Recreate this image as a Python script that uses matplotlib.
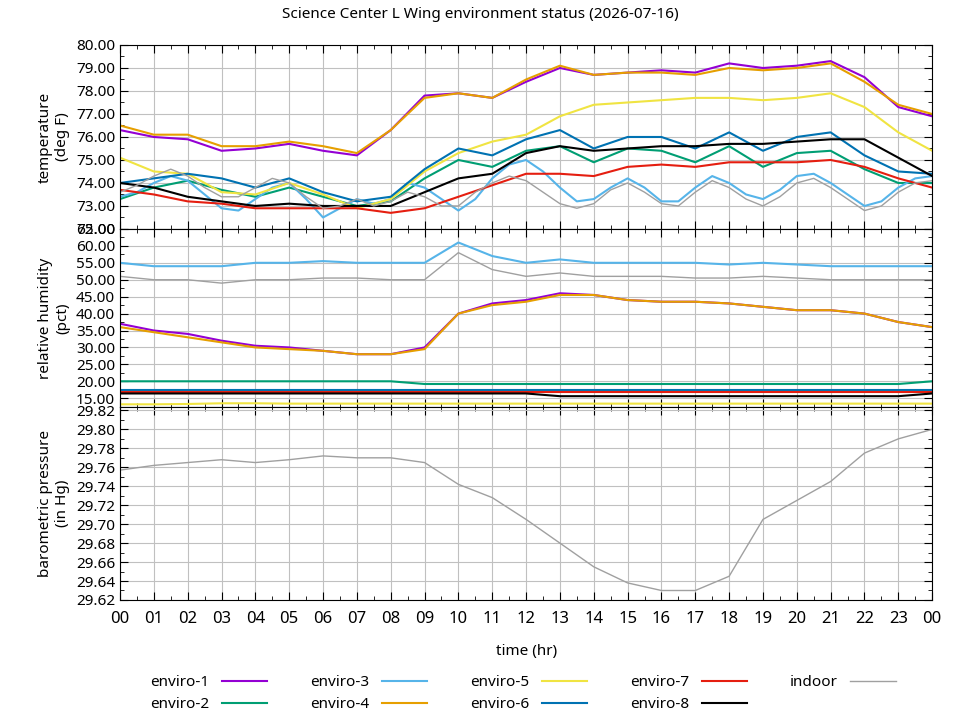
import numpy as np
import matplotlib
matplotlib.use("Agg")
from matplotlib import pyplot as plt
from matplotlib.ticker import MultipleLocator, FormatStrFormatter

plt.rcParams['font.family'] = ['Noto Sans', 'DejaVu Sans']

hours = list(range(25))
halfHours = [h * 0.5 for h in range(49)]

# temperature (deg F)
tempE1 = [76.3, 76.0, 75.9, 75.4, 75.5, 75.7, 75.4, 75.2, 76.3, 77.8, 77.9, 77.7, 78.4, 79.0, 78.7, 78.8, 78.9, 78.8, 79.2, 79.0, 79.1, 79.3, 78.6, 77.3, 76.9]
tempE2 = [73.3, 73.8, 74.1, 73.7, 73.4, 73.8, 73.4, 73.0, 73.2, 74.2, 75.0, 74.7, 75.4, 75.6, 74.9, 75.5, 75.4, 74.9, 75.6, 74.7, 75.3, 75.4, 74.6, 74.0, 74.0]
tempE4 = [76.5, 76.1, 76.1, 75.6, 75.6, 75.8, 75.6, 75.3, 76.3, 77.7, 77.9, 77.7, 78.5, 79.1, 78.7, 78.8, 78.8, 78.7, 79.0, 78.9, 79.0, 79.2, 78.4, 77.4, 77.0]
tempE5 = [75.1, 74.5, 74.4, 73.6, 73.5, 74.0, 73.5, 72.9, 73.3, 74.5, 75.3, 75.8, 76.1, 76.9, 77.4, 77.5, 77.6, 77.7, 77.7, 77.6, 77.7, 77.9, 77.3, 76.2, 75.4]
tempE6 = [74.0, 74.2, 74.4, 74.2, 73.8, 74.2, 73.6, 73.2, 73.4, 74.6, 75.5, 75.2, 75.9, 76.3, 75.5, 76.0, 76.0, 75.5, 76.2, 75.4, 76.0, 76.2, 75.2, 74.5, 74.4]
tempE7 = [73.7, 73.5, 73.2, 73.1, 72.9, 72.9, 72.9, 72.9, 72.7, 72.9, 73.4, 73.9, 74.4, 74.4, 74.3, 74.7, 74.8, 74.7, 74.9, 74.9, 74.9, 75.0, 74.7, 74.2, 73.8]
tempE8 = [74.0, 73.8, 73.4, 73.2, 73.0, 73.1, 73.0, 73.0, 73.0, 73.6, 74.2, 74.4, 75.3, 75.6, 75.4, 75.5, 75.6, 75.6, 75.7, 75.7, 75.8, 75.9, 75.9, 75.1, 74.3]
tempE3 = [73.4, 73.6, 74.0, 74.3, 74.1, 73.5, 72.9, 72.8, 73.3, 73.8, 74.0, 73.3, 72.5, 72.9, 73.3, 73.1,
          73.3, 74.0, 73.8, 73.3, 72.8, 73.3, 74.2, 74.8, 75.0, 74.5, 73.8, 73.2, 73.3, 73.8, 74.2, 73.8,
          73.2, 73.2, 73.8, 74.3, 74.0, 73.5, 73.3, 73.7, 74.3, 74.4, 74.0, 73.5, 73.0, 73.2, 73.8, 74.2, 74.3]
tempIndoor = [73.6, 73.9, 74.3, 74.6, 74.3, 73.8, 73.4, 73.4, 73.8, 74.2, 74.0, 73.4, 72.9, 73.0, 73.3, 73.0,
              73.2, 73.6, 73.4, 73.0, 73.0, 73.6, 74.0, 74.3, 74.1, 73.6, 73.1, 72.9, 73.1, 73.7, 74.0, 73.6,
              73.1, 73.0, 73.6, 74.1, 73.8, 73.3, 73.0, 73.4, 74.0, 74.2, 73.8, 73.3, 72.8, 73.0, 73.6, 74.0, 74.1]

# relative humidity (pct)
humE1 = [37.0, 35.0, 34.0, 32.0, 30.5, 30.0, 29.0, 28.0, 28.0, 30.0, 40.0, 43.0, 44.0, 46.0, 45.5, 44.0, 43.5, 43.5, 43.0, 42.0, 41.0, 41.0, 40.0, 37.5, 36.0]
humE4 = [36.0, 34.5, 33.0, 31.5, 30.0, 29.5, 29.0, 28.0, 28.0, 29.5, 40.0, 42.5, 43.5, 45.5, 45.5, 44.0, 43.5, 43.5, 43.0, 42.0, 41.0, 41.0, 40.0, 37.5, 36.0]
humE3 = [55.0, 54.0, 54.0, 54.0, 55.0, 55.0, 55.5, 55.0, 55.0, 55.0, 61.0, 57.0, 55.0, 56.0, 55.0, 55.0, 55.0, 55.0, 54.5, 55.0, 54.5, 54.0, 54.0, 54.0, 54.0]
humIndoor = [51.0, 50.0, 50.0, 49.0, 50.0, 50.0, 50.5, 50.5, 50.0, 50.0, 58.0, 53.0, 51.0, 52.0, 51.0, 51.0, 51.0, 50.5, 50.5, 51.0, 50.5, 50.0, 50.0, 50.0, 50.0]
humE2 = [20.0] * 9 + [19.2] * 15 + [20.0]
humE5 = [13.2, 13.2, 13.3, 13.5, 13.5] + [13.4] * 20
humE6 = [17.5] * 25
humE7 = [16.8] * 25
humE8 = [16.4] * 13 + [15.6] * 11 + [16.4]

# barometric pressure (in Hg)
pressIndoor = [29.757, 29.762, 29.765, 29.768, 29.765, 29.768, 29.772, 29.770, 29.770, 29.765, 29.742, 29.728, 29.705,
               29.680, 29.655, 29.638, 29.630, 29.630, 29.645, 29.705, 29.725, 29.745, 29.775, 29.790, 29.800]

colors = {"enviro-1": "#9400d3", "enviro-2": "#009e73", "enviro-3": "#56b4e9", "enviro-4": "#e69f00",
          "enviro-5": "#f0e442", "enviro-6": "#0072b2", "enviro-7": "#e51e10", "enviro-8": "#000000",
          "indoor": "#a0a0a0"}

fig = plt.figure(figsize=(9.6, 7.2), dpi=100)
axT = fig.add_axes([0.125, 0.682, 0.846, 0.2555])
axH = fig.add_axes([0.125, 0.4347, 0.846, 0.2473], sharex=axT)
axP = fig.add_axes([0.125, 0.1667, 0.846, 0.268], sharex=axT)

axT.plot(hours, tempE1, color=colors["enviro-1"], lw=1.5, label="enviro-1")
axT.plot(hours, tempE2, color=colors["enviro-2"], lw=1.5, label="enviro-2")
axT.plot(halfHours, tempE3, color=colors["enviro-3"], lw=1.5, label="enviro-3")
axT.plot(hours, tempE4, color=colors["enviro-4"], lw=1.5, label="enviro-4")
axT.plot(hours, tempE5, color=colors["enviro-5"], lw=1.5, label="enviro-5")
axT.plot(hours, tempE6, color=colors["enviro-6"], lw=1.5, label="enviro-6")
axT.plot(hours, tempE7, color=colors["enviro-7"], lw=1.5, label="enviro-7")
axT.plot(hours, tempE8, color=colors["enviro-8"], lw=1.5, label="enviro-8")
axT.plot(halfHours, tempIndoor, color=colors["indoor"], lw=1.0, label="indoor")

axH.plot(hours, humE1, color=colors["enviro-1"], lw=1.5)
axH.plot(hours, humE2, color=colors["enviro-2"], lw=1.5)
axH.plot(hours, humE3, color=colors["enviro-3"], lw=1.5)
axH.plot(hours, humE4, color=colors["enviro-4"], lw=1.5)
axH.plot(hours, humE5, color=colors["enviro-5"], lw=1.5)
axH.plot(hours, humE6, color=colors["enviro-6"], lw=1.5)
axH.plot(hours, humE7, color=colors["enviro-7"], lw=1.5)
axH.plot(hours, humE8, color=colors["enviro-8"], lw=1.5)
axH.plot(hours, humIndoor, color=colors["indoor"], lw=1.0)

axP.plot(hours, pressIndoor, color=colors["indoor"], lw=1.0)

axT.set_ylim(72, 80)
axT.yaxis.set_major_locator(MultipleLocator(1))
axT.yaxis.set_minor_locator(MultipleLocator(0.5))
axH.set_ylim(12.4, 65)
axH.yaxis.set_major_locator(MultipleLocator(5))
axH.yaxis.set_minor_locator(MultipleLocator(2.5))
axP.set_ylim(29.62, 29.8236)
axP.yaxis.set_major_locator(MultipleLocator(0.02))
axP.yaxis.set_minor_locator(MultipleLocator(0.01))

for ax in (axT, axH, axP):
    ax.yaxis.set_major_formatter(FormatStrFormatter("%.2f"))
    ax.set_xlim(0, 24)
    ax.xaxis.set_major_locator(MultipleLocator(1))
    ax.xaxis.set_minor_locator(MultipleLocator(0.5))
    ax.grid(True, which="major", color="#c0c0c0", lw=0.8)
    ax.tick_params(which="both", direction="in", top=True, right=True, labelsize=11)
    ax.tick_params(which="major", length=6)
    ax.tick_params(which="minor", length=3)
for ax in (axT, axH):
    plt.setp(ax.get_xticklabels(), visible=False)
axP.set_xticks(hours)
axP.set_xticklabels(["%02d" % (h % 24) for h in hours])
axP.tick_params(axis="x", labelsize=12, pad=8)

axT.set_ylabel("temperature\n(deg F)", fontsize=11)
axH.set_ylabel("relative humidity\n(pct)", fontsize=11)
axP.set_ylabel("barometric pressure\n(in Hg)", fontsize=11)
axP.set_xlabel("time (hr)", fontsize=11, labelpad=12)
fig.suptitle("Science Center L Wing environment status (2026-07-16)", fontsize=11, y=0.99)

handles, labels = axT.get_legend_handles_labels()
fig.legend(handles, labels, loc="lower center", bbox_to_anchor=(0.545, -0.008), ncol=5,
           frameon=False, markerfirst=False, fontsize=11, handlelength=3, columnspacing=2.8,
           labelspacing=0.45)

fig.savefig("out.png", dpi=100)
